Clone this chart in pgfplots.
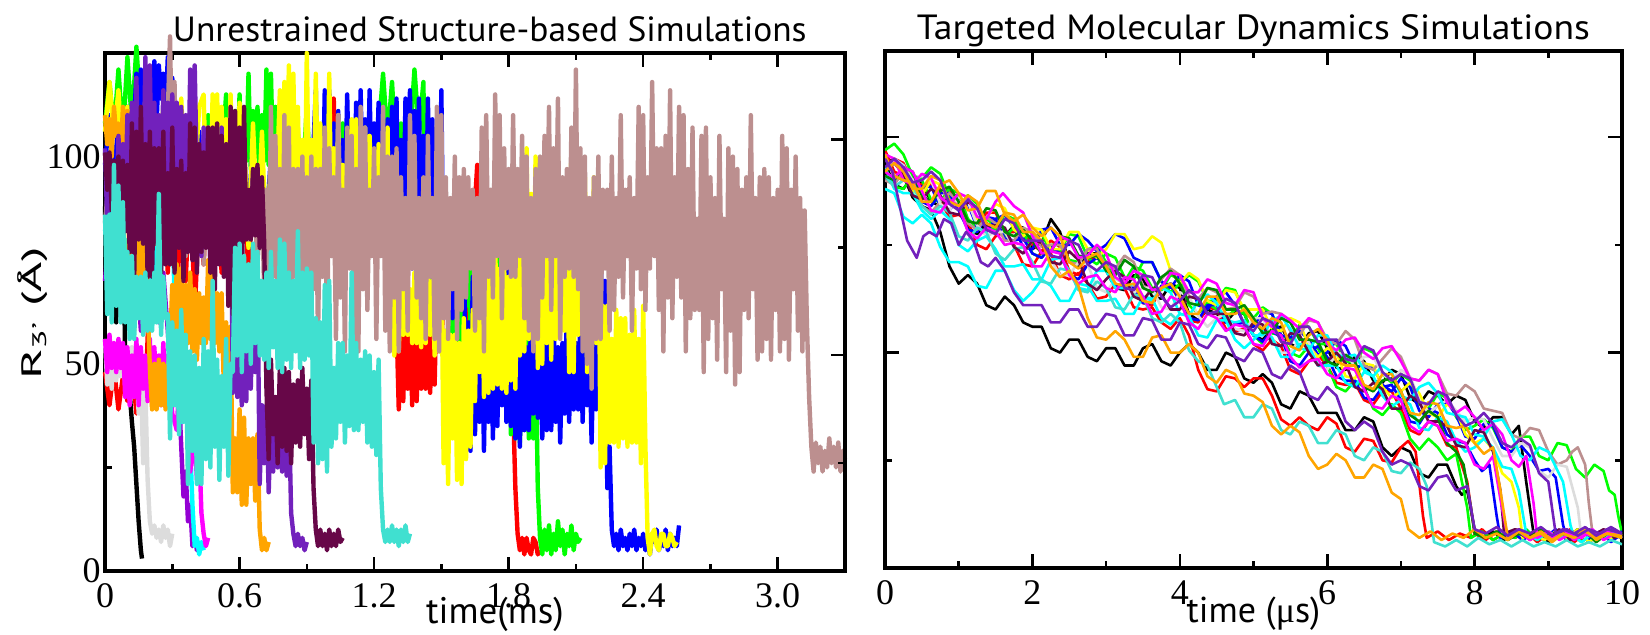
\documentclass[border=0pt]{standalone}
\usepackage{pgfplots}
\pgfplotsset{compat=1.18}
\usepackage{fontspec}
\setmainfont{Liberation Serif}
\setsansfont{PT Sans}
\definecolor{gblack}{HTML}{000000}
\definecolor{gred}{HTML}{FF0000}
\definecolor{ggreen}{HTML}{00FF00}
\definecolor{gblue}{HTML}{0000FF}
\definecolor{gyellow}{HTML}{FFFF00}
\definecolor{gbrown}{HTML}{BC8F8F}
\definecolor{ggrey}{HTML}{DCDCDC}
\definecolor{gviolet}{HTML}{9400D3}
\definecolor{gcyan}{HTML}{00FFFF}
\definecolor{gmagenta}{HTML}{FF00FF}
\definecolor{gorange}{HTML}{FFA500}
\definecolor{gindigo}{HTML}{7221BC}
\definecolor{gmaroon}{HTML}{670748}
\definecolor{gturq}{HTML}{40E0D0}
\definecolor{ggreenf}{HTML}{008B00}
\pgfplotsset{
  base/.style={scale only axis, axis line style={line width=1.7pt},
    every tick/.style={black, line width=1.3pt},
    major tick length=7pt, minor tick length=3.5pt, tick align=inside,
    /pgf/number format/assume math mode=true,
    every tick label/.append style={font=\rmfamily\fontsize{18}{18}\selectfont, inner sep=0pt},
    xticklabel style={yshift=-6pt},
    yticklabel style={xshift=-2pt},
    every axis title shift=0pt,
    title style={font=\sffamily\fontsize{17.5}{18}\selectfont, anchor=base},
  },
  L/.style={line width=2.2pt, line join=round},
  R/.style={line width=1.3pt, line join=round},
}
\begin{document}
\begin{tikzpicture}[x=1pt,y=1pt]
\path[use as bounding box] (0,0) rectangle (825,317);
% ---------------- left panel ----------------
\begin{axis}[base, at={(52.5pt,31.5pt)}, anchor=south west, width=370pt, height=259pt,
  xmin=0, xmax=3.3, ymin=0, ymax=125, clip=false,
  xtick={0,0.6,1.2,1.8,2.4,3.0}, xticklabels={0,0.6,1.2,1.8,2.4,3.0},
  minor xtick={0.3,0.9,1.5,2.1,2.7},
  ytick={0,50,100}, yticklabels={0,50,100}, minor ytick={25,75}, ytick pos=left,
  xlabel={time(ms)}, xlabel style={at={(axis description cs:0.527,-0.0830)}, anchor=center, font=\sffamily\fontsize{18.5}{19}\selectfont},
  ylabel={R\textsubscript{3'} (Å)}, ylabel style={at={(axis description cs:-0.0973,0.497)}, anchor=center, font=\sffamily\fontsize{14}{14}\selectfont, xscale=1.85},
  title={Unrestrained Structure-based Simulations}, title style={at={(axis description cs:0.52,1)}, yshift=6pt, xscale=1.013},
]
\addplot[L, gblack] coordinates {(0,88)(0.01,64)(0.02,97)(0.03,70)(0.04,102)(0.05,60)(0.06,93)(0.07,66)(0.08,86)(0.09,52)(0.10,46)(0.11,43)(0.12,36)(0.13,30)(0.14,21)(0.15,12)(0.16,5)(0.165,3)};
\addplot[L, gred] coordinates {(0,48)(0.02,40)(0.04,49)(0.06,39)(0.08,47)(0.10,41)(0.12,50)(0.14,38)(0.16,46)(0.18,42)(0.20,70)(0.22,92)(0.24,66)(0.26,95)(0.28,72)(0.30,98)(0.32,64)(0.34,90)(0.36,70)(0.38,96)(0.40,62)(0.42,88)(0.44,74)(0.46,99)(0.48,68)(0.50,94)(0.52,72)(0.54,97)(0.56,66)(0.58,92)(0.60,75)(0.62,98)(0.64,70)(0.66,93)(0.68,78)(0.70,96)(0.72,72)(0.74,90)(0.76,76)(0.78,97)(0.80,70)(0.82,92)(0.84,78)(0.86,95)(0.88,74)(0.90,99)(0.92,80)(0.94,108)(0.95,91)(0.96,107)(0.97,95)(0.98,106)(0.99,95)(1.00,114)(1.01,96)(1.02,114)(1.03,95)(1.04,107)(1.05,93)(1.06,84)(1.08,102)(1.10,82)(1.12,98)(1.14,80)(1.16,100)(1.18,84)(1.20,96)(1.22,78)(1.24,90)(1.26,70)(1.28,80)(1.30,60)(1.31,39)(1.32,58)(1.33,41)(1.34,60)(1.35,44)(1.36,60)(1.37,40)(1.38,64)(1.39,41)(1.40,64)(1.41,44)(1.42,58)(1.43,44)(1.44,63)(1.45,43)(1.46,61)(1.47,45)(1.48,70)(1.50,55)(1.52,76)(1.54,52)(1.56,74)(1.58,58)(1.60,78)(1.62,54)(1.64,80)(1.66,98)(1.68,60)(1.70,76)(1.72,52)(1.74,72)(1.76,56)(1.78,70)(1.80,54)(1.82,40)(1.83,20)(1.84,9)(1.85,5)(1.86,8)(1.87,4)(1.88,8)(1.89,5)(1.90,4)(1.91,8)(1.92,7)(1.93,4)(1.94,5)};
\addplot[L, ggreen] coordinates {(0,108)(0.02,118)(0.04,106)(0.06,121)(0.08,105)(0.10,124)(0.12,108)(0.14,126.5)(0.16,110)(0.18,120)(0.20,96)(0.22,108)(0.24,88)(0.26,106)(0.28,90)(0.30,104)(0.32,86)(0.34,100)(0.36,92)(0.38,108)(0.40,88)(0.42,102)(0.44,94)(0.46,110)(0.48,96)(0.50,106)(0.52,98)(0.54,115)(0.55,95)(0.56,111)(0.57,99)(0.58,111)(0.59,95)(0.60,115)(0.61,97)(0.62,110)(0.63,99)(0.64,120)(0.65,97)(0.66,111)(0.67,100)(0.68,112)(0.69,95)(0.70,110)(0.71,99)(0.72,121)(0.73,98)(0.74,120)(0.75,97)(0.76,112)(0.77,99)(0.78,111)(0.80,90)(0.82,110)(0.84,88)(0.86,106)(0.88,92)(0.90,112)(0.92,90)(0.94,108)(0.96,94)(0.98,110)(1.00,90)(1.02,104)(1.04,92)(1.06,108)(1.08,88)(1.10,104)(1.12,94)(1.14,110)(1.16,92)(1.18,106)(1.20,96)(1.22,106)(1.24,120)(1.26,104)(1.28,118)(1.30,98)(1.32,108)(1.34,92)(1.36,104)(1.38,121)(1.40,106)(1.42,118)(1.43,69)(1.44,90)(1.45,69)(1.46,95)(1.47,68)(1.48,89)(1.49,70)(1.50,91)(1.51,71)(1.52,86)(1.53,66)(1.54,65)(1.55,50)(1.56,68)(1.57,52)(1.58,65)(1.59,50)(1.60,64)(1.61,64)(1.62,79)(1.63,57)(1.64,77)(1.65,56)(1.66,83)(1.67,60)(1.68,80)(1.69,62)(1.70,85)(1.71,57)(1.72,77)(1.73,64)(1.74,86)(1.75,58)(1.76,82)(1.77,59)(1.78,83)(1.79,60)(1.80,86)(1.81,33)(1.82,52)(1.83,32)(1.84,53)(1.85,31)(1.86,49)(1.87,34)(1.88,59)(1.89,32)(1.90,57)(1.91,32)(1.92,56)(1.93,20)(1.94,8)(1.95,4)(1.96,10)(1.97,5)(1.98,11)(1.99,4)(2.00,9)(2.01,5)(2.02,12)(2.03,6)(2.04,10)(2.05,4)(2.06,9)(2.07,6)(2.08,11)(2.09,5)(2.10,9)(2.11,7)(2.12,8)};
\addplot[L, gblue] coordinates {(0,98)(0.02,110)(0.04,96)(0.06,108)(0.08,100)(0.10,112)(0.12,97)(0.14,120)(0.15,110)(0.16,121)(0.17,112)(0.18,120)(0.19,109)(0.20,120)(0.21,113)(0.22,123)(0.23,108)(0.24,122)(0.25,114)(0.26,120)(0.27,109)(0.28,124)(0.29,111)(0.30,119)(0.32,90)(0.34,104)(0.36,80)(0.38,100)(0.40,84)(0.42,106)(0.44,78)(0.46,98)(0.48,86)(0.50,104)(0.52,80)(0.54,96)(0.56,88)(0.58,102)(0.60,82)(0.62,98)(0.64,86)(0.66,104)(0.68,80)(0.70,96)(0.72,84)(0.74,100)(0.76,82)(0.78,98)(0.80,86)(0.82,104)(0.84,84)(0.86,100)(0.88,88)(0.90,106)(0.92,90)(0.94,116)(0.95,86)(0.96,105)(0.97,87)(0.98,116)(0.99,89)(1.00,116)(1.01,84)(1.02,108)(1.03,86)(1.04,111)(1.05,91)(1.06,104)(1.07,88)(1.08,115)(1.09,90)(1.10,104)(1.11,84)(1.12,113)(1.13,88)(1.14,116)(1.15,88)(1.16,109)(1.17,88)(1.18,116)(1.19,90)(1.20,108)(1.21,92)(1.22,113)(1.23,85)(1.24,105)(1.25,87)(1.26,109)(1.27,92)(1.28,112)(1.29,78)(1.30,114)(1.31,75)(1.32,104)(1.33,80)(1.34,114)(1.35,72)(1.36,116)(1.37,73)(1.38,111)(1.39,78)(1.40,114)(1.41,80)(1.42,105)(1.43,76)(1.44,114)(1.45,78)(1.46,109)(1.47,77)(1.48,107)(1.49,78)(1.50,116)(1.51,65)(1.52,88)(1.53,66)(1.54,87)(1.55,61)(1.56,90)(1.57,61)(1.58,84)(1.59,65)(1.60,86)(1.61,29)(1.62,60)(1.63,29)(1.64,71)(1.65,33)(1.66,62)(1.67,36)(1.68,63)(1.69,29)(1.70,63)(1.71,36)(1.72,60)(1.73,32)(1.74,71)(1.75,35)(1.76,73)(1.77,40)(1.78,76)(1.79,36)(1.80,74)(1.81,35)(1.82,67)(1.83,32)(1.84,60)(1.85,30)(1.86,60)(1.87,34)(1.88,54)(1.89,34)(1.90,63)(1.91,38)(1.92,56)(1.93,37)(1.94,55)(1.95,32)(1.96,56)(1.97,34)(1.98,57)(1.99,34)(2.00,64)(2.01,36)(2.02,54)(2.03,31)(2.04,55)(2.05,38)(2.06,63)(2.07,36)(2.08,63)(2.09,39)(2.10,55)(2.11,39)(2.12,62)(2.13,36)(2.14,60)(2.15,40)(2.16,56)(2.17,31)(2.18,58)(2.19,39)(2.20,54)(2.21,84)(2.22,40)(2.23,70)(2.24,20)(2.25,30)(2.26,10)(2.27,6)(2.28,9)(2.29,5)(2.30,10)(2.31,6)(2.32,8)(2.33,5)(2.34,9)(2.35,6)(2.36,10)(2.37,5)(2.38,8)(2.39,6)(2.40,9)(2.41,5)(2.42,8)(2.43,4)(2.44,9)(2.45,7)(2.46,10)(2.47,5)(2.48,8)(2.49,6)(2.50,10)(2.51,5)(2.52,9)(2.53,6)(2.54,8)(2.55,6)(2.56,11)};
\addplot[L, gyellow] coordinates {(0,106)(0.02,118)(0.04,105)(0.06,116)(0.08,96)(0.10,112)(0.12,92)(0.14,110)(0.16,94)(0.18,114)(0.20,90)(0.22,108)(0.24,96)(0.26,112)(0.28,92)(0.30,110)(0.32,95)(0.34,114)(0.36,90)(0.38,108)(0.40,94)(0.42,112)(0.44,115)(0.45,93)(0.46,107)(0.47,91)(0.48,115)(0.49,94)(0.50,115)(0.51,90)(0.52,112)(0.53,93)(0.54,109)(0.55,93)(0.56,115)(0.57,93)(0.58,109)(0.59,94)(0.60,113)(0.62,104)(0.64,78)(0.66,108)(0.68,82)(0.70,106)(0.72,76)(0.74,100)(0.76,84)(0.78,116)(0.79,88)(0.80,118)(0.81,92)(0.82,122)(0.83,89)(0.84,120)(0.85,88)(0.86,112)(0.87,87)(0.88,104)(0.89,84)(0.90,125)(0.91,87)(0.92,104)(0.93,87)(0.94,120)(0.95,90)(0.96,108)(0.97,83)(0.98,99)(0.99,80)(1.00,120)(1.01,81)(1.02,102)(1.03,81)(1.04,110)(1.05,82)(1.06,98)(1.07,79)(1.08,99)(1.09,84)(1.10,109)(1.11,82)(1.12,109)(1.13,85)(1.14,99)(1.15,85)(1.16,107)(1.17,82)(1.18,105)(1.19,86)(1.20,101)(1.21,79)(1.22,103)(1.23,85)(1.24,98)(1.25,84)(1.26,107)(1.27,58)(1.28,69)(1.29,52)(1.30,71)(1.31,53)(1.32,72)(1.33,57)(1.34,69)(1.35,57)(1.36,68)(1.37,55)(1.38,72)(1.39,55)(1.40,76)(1.41,54)(1.42,72)(1.43,55)(1.44,73)(1.45,57)(1.46,70)(1.47,52)(1.48,72)(1.49,53)(1.50,76)(1.51,26)(1.52,58)(1.53,21)(1.54,57)(1.55,32)(1.56,57)(1.57,22)(1.58,55)(1.59,21)(1.60,61)(1.61,27)(1.62,58)(1.63,30)(1.64,63)(1.65,41)(1.66,71)(1.67,48)(1.68,80)(1.69,42)(1.70,76)(1.71,43)(1.72,77)(1.73,44)(1.74,80)(1.75,45)(1.76,73)(1.77,44)(1.78,74)(1.79,43)(1.80,71)(1.81,46)(1.82,79)(1.83,44)(1.84,78)(1.85,52)(1.86,97)(1.87,53)(1.88,102)(1.89,56)(1.90,91)(1.91,55)(1.92,100)(1.93,49)(1.94,97)(1.95,50)(1.96,102)(1.97,55)(1.98,86)(1.99,51)(2.00,95)(2.01,56)(2.02,100)(2.03,57)(2.04,88)(2.05,58)(2.06,86)(2.07,48)(2.08,104)(2.09,48)(2.10,86)(2.11,57)(2.12,93)(2.13,57)(2.14,95)(2.15,48)(2.16,88)(2.17,51)(2.18,95)(2.19,55)(2.20,95)(2.21,25)(2.22,64)(2.23,26)(2.24,64)(2.25,31)(2.26,56)(2.27,31)(2.28,63)(2.29,30)(2.30,61)(2.31,32)(2.32,61)(2.33,30)(2.34,57)(2.35,31)(2.36,63)(2.37,31)(2.38,56)(2.39,26)(2.40,64)(2.41,30)(2.42,8)(2.43,4)(2.44,9)(2.45,10)(2.46,6)(2.47,5)(2.48,9)(2.49,9)(2.50,6)(2.51,6)(2.52,9)(2.53,8)(2.54,6)(2.55,7)};
\addplot[L, gbrown] coordinates {(0,84)(0.02,96)(0.04,78)(0.06,98)(0.08,80)(0.10,94)(0.12,76)(0.14,100)(0.16,82)(0.18,96)(0.20,78)(0.22,92)(0.24,84)(0.26,100)(0.28,110)(0.29,129)(0.30,96)(0.31,118)(0.32,86)(0.34,98)(0.36,76)(0.38,94)(0.40,80)(0.42,100)(0.44,74)(0.46,96)(0.48,82)(0.50,98)(0.52,78)(0.54,94)(0.56,84)(0.58,100)(0.60,76)(0.62,92)(0.64,80)(0.66,96)(0.68,74)(0.70,92)(0.71,66)(0.72,92)(0.73,63)(0.74,112)(0.75,71)(0.76,105)(0.77,63)(0.78,97)(0.79,63)(0.80,110)(0.81,53)(0.82,107)(0.83,53)(0.84,97)(0.85,71)(0.86,97)(0.87,56)(0.88,100)(0.89,61)(0.90,95)(0.91,61)(0.92,100)(0.93,68)(0.94,97)(0.95,56)(0.96,97)(0.97,71)(0.98,107)(0.99,53)(1.00,102)(1.01,76)(1.02,95)(1.03,56)(1.04,110)(1.05,66)(1.06,92)(1.07,53)(1.08,107)(1.09,73)(1.10,105)(1.11,53)(1.12,97)(1.13,53)(1.14,112)(1.15,68)(1.16,107)(1.17,63)(1.18,92)(1.19,76)(1.20,102)(1.21,56)(1.22,95)(1.23,76)(1.24,112)(1.25,58)(1.26,100)(1.27,53)(1.28,100)(1.29,66)(1.30,102)(1.31,53)(1.32,95)(1.33,68)(1.34,90)(1.35,58)(1.36,110)(1.37,73)(1.38,105)(1.39,66)(1.40,90)(1.41,61)(1.42,95)(1.43,56)(1.44,105)(1.45,71)(1.46,90)(1.47,56)(1.48,112)(1.49,53)(1.50,110)(1.51,61)(1.52,95)(1.53,56)(1.54,90)(1.55,68)(1.56,100)(1.57,56)(1.58,95)(1.59,63)(1.60,97)(1.61,66)(1.62,95)(1.63,73)(1.64,92)(1.65,58)(1.66,90)(1.67,61)(1.68,107)(1.69,53)(1.70,110)(1.71,71)(1.72,92)(1.73,66)(1.74,115)(1.75,76)(1.76,110)(1.77,61)(1.78,102)(1.79,73)(1.80,97)(1.81,71)(1.82,110)(1.83,71)(1.84,97)(1.85,76)(1.86,105)(1.87,61)(1.88,100)(1.89,58)(1.90,90)(1.91,53)(1.92,97)(1.93,56)(1.94,100)(1.95,66)(1.96,105)(1.97,76)(1.98,112)(1.99,63)(2.00,102)(2.01,76)(2.02,114)(2.03,56)(2.04,95)(2.05,71)(2.06,97)(2.07,73)(2.08,107)(2.09,71)(2.10,121)(2.11,68)(2.12,102)(2.13,53)(2.14,100)(2.15,50)(2.16,90)(2.17,44)(2.18,95)(2.19,56)(2.20,100)(2.21,56)(2.22,92)(2.23,73)(2.24,92)(2.25,58)(2.26,100)(2.27,63)(2.28,90)(2.29,71)(2.30,110)(2.31,66)(2.32,92)(2.33,76)(2.34,95)(2.35,58)(2.36,90)(2.37,73)(2.38,112)(2.39,68)(2.40,110)(2.41,63)(2.42,95)(2.43,73)(2.44,118)(2.45,76)(2.46,102)(2.47,63)(2.48,102)(2.49,53)(2.50,105)(2.51,66)(2.52,116)(2.53,61)(2.54,95)(2.55,71)(2.56,112)(2.57,66)(2.58,110)(2.59,53)(2.60,97)(2.61,61)(2.62,107)(2.63,63)(2.64,85)(2.65,63)(2.66,105)(2.67,48)(2.68,107)(2.69,56)(2.70,95)(2.71,61)(2.72,90)(2.73,51)(2.74,105)(2.75,68)(2.76,85)(2.77,48)(2.78,102)(2.79,58)(2.80,100)(2.81,45)(2.82,97)(2.83,48)(2.84,92)(2.85,63)(2.86,95)(2.87,61)(2.88,110)(2.89,68)(2.90,90)(2.91,51)(2.92,95)(2.93,53)(2.94,97)(2.95,56)(2.96,95)(2.97,51)(2.98,90)(2.99,63)(3.00,92)(3.01,53)(3.02,105)(3.03,56)(3.04,102)(3.05,51)(3.06,92)(3.07,68)(3.08,100)(3.09,58)(3.10,90)(3.11,53)(3.12,87)(3.13,60)(3.14,42)(3.15,30)(3.16,24)(3.17,31)(3.18,26)(3.19,30)(3.20,24)(3.21,29)(3.22,25)(3.23,32)(3.24,26)(3.25,30)(3.26,25)(3.27,31)(3.28,24)(3.29,29)(3.30,27)};
\addplot[L, ggrey] coordinates {(0,56)(0.01,45)(0.02,57)(0.03,44)(0.04,55)(0.05,46)(0.06,54)(0.07,47)(0.08,55)(0.09,45)(0.10,53)(0.11,46)(0.12,54)(0.13,44)(0.14,50)(0.15,38)(0.16,48)(0.17,26)(0.18,44)(0.19,22)(0.20,12)(0.21,9)(0.22,11)(0.23,8)(0.24,10)(0.25,7)(0.26,11)(0.27,8)(0.28,10)(0.29,6)(0.30,9)};
\addplot[L, gviolet] coordinates {(0,70)(0.02,84)(0.04,66)(0.06,80)(0.08,62)(0.10,72)(0.12,60)(0.14,74)(0.16,58)(0.18,70)(0.20,62)(0.22,74)(0.24,60)(0.26,72)(0.28,58)(0.30,40)(0.32,56)(0.34,30)(0.35,18)(0.36,24)(0.37,12)(0.38,16)(0.39,6)(0.40,8)(0.41,5)(0.42,7)};
\addplot[L, gcyan] coordinates {(0,82)(0.02,90)(0.04,76)(0.06,86)(0.08,72)(0.10,80)(0.12,66)(0.14,76)(0.16,62)(0.18,74)(0.20,64)(0.22,78)(0.24,66)(0.26,80)(0.28,85)(0.29,77)(0.30,84)(0.32,50)(0.34,36)(0.36,48)(0.38,30)(0.39,16)(0.40,6)(0.41,8)(0.42,4)(0.43,7)(0.44,5)};
\addplot[L, gmagenta] coordinates {(0,56)(0.01,48)(0.02,57)(0.03,49)(0.04,55)(0.05,48)(0.06,56)(0.07,49)(0.08,55)(0.09,42)(0.10,54)(0.11,40)(0.12,52)(0.13,42)(0.14,56)(0.15,40)(0.16,54)(0.17,44)(0.18,52)(0.19,41)(0.20,56)(0.21,40)(0.22,54)(0.23,44)(0.24,52)(0.25,40)(0.26,55)(0.27,43)(0.28,52)(0.30,38)(0.32,34)(0.34,56)(0.36,46)(0.38,24)(0.40,32)(0.41,22)(0.42,30)(0.43,14)(0.44,9)(0.45,6)(0.46,8)};
\addplot[L, gorange] coordinates {(0,110)(0.01,103)(0.02,109)(0.03,100)(0.04,112)(0.05,105)(0.06,108)(0.07,100)(0.08,112)(0.09,102)(0.10,111)(0.11,62)(0.12,83)(0.13,58)(0.14,81)(0.15,63)(0.16,82)(0.17,62)(0.18,85)(0.19,65)(0.20,49)(0.21,39)(0.22,50)(0.23,39)(0.24,51)(0.25,40)(0.26,50)(0.27,39)(0.28,49)(0.29,54)(0.30,69)(0.31,51)(0.32,74)(0.33,52)(0.34,73)(0.35,51)(0.36,69)(0.37,55)(0.38,72)(0.39,53)(0.40,68)(0.41,51)(0.42,67)(0.43,55)(0.44,66)(0.45,55)(0.46,75)(0.47,56)(0.48,75)(0.49,55)(0.50,67)(0.51,53)(0.52,67)(0.53,44)(0.54,60)(0.55,45)(0.56,59)(0.57,19)(0.58,32)(0.59,19)(0.60,39)(0.61,16)(0.62,37)(0.63,16)(0.64,32)(0.65,21)(0.66,32)(0.67,17)(0.68,33)(0.69,10)(0.70,5)(0.71,8)(0.72,5)(0.73,7)};
\addplot[L, gindigo] coordinates {(0,102)(0.01,84)(0.02,100)(0.03,89)(0.04,98)(0.05,86)(0.06,105)(0.07,91)(0.08,103)(0.09,88)(0.10,110)(0.11,89)(0.12,113)(0.13,87)(0.14,119)(0.15,94)(0.16,110)(0.17,87)(0.18,124)(0.19,86)(0.20,122)(0.21,89)(0.22,113)(0.23,87)(0.24,110)(0.25,93)(0.26,116)(0.27,87)(0.28,113)(0.29,90)(0.30,115)(0.31,92)(0.32,113)(0.33,95)(0.34,112)(0.35,88)(0.36,110)(0.37,89)(0.38,121)(0.39,86)(0.40,122)(0.41,94)(0.42,97)(0.43,76)(0.44,107)(0.45,80)(0.46,107)(0.47,73)(0.48,103)(0.49,79)(0.50,100)(0.51,78)(0.52,107)(0.53,78)(0.54,100)(0.55,80)(0.56,104)(0.57,43)(0.58,63)(0.59,42)(0.60,58)(0.61,40)(0.62,62)(0.63,41)(0.64,63)(0.65,44)(0.66,66)(0.67,48)(0.68,70)(0.69,21)(0.70,40)(0.71,26)(0.72,40)(0.73,19)(0.74,38)(0.75,24)(0.76,39)(0.77,25)(0.78,42)(0.79,24)(0.80,40)(0.81,23)(0.82,40)(0.83,14)(0.84,9)(0.85,6)(0.86,9)(0.87,6)(0.88,8)(0.89,5)(0.90,7)};
\addplot[L, gmaroon] coordinates {(0,101)(0.01,92)(0.02,101)(0.03,87)(0.04,99)(0.05,91)(0.06,100)(0.07,83)(0.08,99)(0.09,82)(0.10,98)(0.11,77)(0.12,108)(0.13,70)(0.14,106)(0.15,80)(0.16,112)(0.17,79)(0.18,103)(0.19,71)(0.20,106)(0.21,71)(0.22,102)(0.23,79)(0.24,102)(0.25,72)(0.26,106)(0.27,74)(0.28,96)(0.29,74)(0.30,107)(0.31,72)(0.32,97)(0.33,78)(0.34,99)(0.35,70)(0.36,96)(0.37,77)(0.38,108)(0.39,75)(0.40,107)(0.41,72)(0.42,103)(0.43,77)(0.44,101)(0.45,78)(0.46,107)(0.47,72)(0.48,107)(0.49,68)(0.50,108)(0.51,74)(0.52,105)(0.53,71)(0.54,103)(0.55,64)(0.56,112)(0.57,62)(0.58,111)(0.59,56)(0.60,107)(0.61,62)(0.62,112)(0.63,80)(0.64,92)(0.65,80)(0.66,97)(0.67,81)(0.68,98)(0.69,78)(0.70,95)(0.71,79)(0.72,44)(0.73,27)(0.74,51)(0.75,33)(0.76,42)(0.77,26)(0.78,50)(0.79,30)(0.80,49)(0.81,29)(0.82,48)(0.83,26)(0.84,45)(0.85,31)(0.86,46)(0.87,30)(0.88,49)(0.89,33)(0.90,44)(0.91,27)(0.92,46)(0.93,20)(0.94,10)(0.95,6)(0.96,10)(0.97,6)(0.98,9)(0.99,5)(1.00,10)(1.01,6)(1.02,9)(1.03,6)(1.04,10)(1.05,7)(1.06,8)};
\addplot[L, gturq] coordinates {(0,86)(0.01,62)(0.02,86)(0.03,60)(0.04,98)(0.05,64)(0.06,93)(0.07,60)(0.08,89)(0.09,60)(0.10,77)(0.11,56)(0.12,76)(0.13,56)(0.14,71)(0.15,61)(0.16,71)(0.17,57)(0.18,72)(0.19,58)(0.20,70)(0.21,58)(0.22,72)(0.23,60)(0.24,91)(0.25,57)(0.26,71)(0.27,61)(0.28,62)(0.29,32)(0.30,60)(0.31,40)(0.32,58)(0.33,33)(0.34,63)(0.35,36)(0.36,57)(0.37,21)(0.38,53)(0.39,29)(0.40,52)(0.41,21)(0.42,49)(0.43,21)(0.44,56)(0.45,27)(0.46,53)(0.47,25)(0.48,70)(0.49,30)(0.50,51)(0.51,22)(0.52,47)(0.53,30)(0.54,56)(0.55,23)(0.56,50)(0.57,48)(0.58,78)(0.59,52)(0.60,79)(0.61,48)(0.62,76)(0.63,53)(0.64,74)(0.65,50)(0.66,79)(0.67,55)(0.68,77)(0.69,52)(0.70,70)(0.71,51)(0.72,72)(0.73,49)(0.74,77)(0.75,54)(0.76,70)(0.77,49)(0.78,80)(0.79,48)(0.80,79)(0.81,51)(0.82,72)(0.83,49)(0.84,70)(0.85,53)(0.86,82)(0.87,49)(0.88,72)(0.89,51)(0.90,73)(0.91,52)(0.92,72)(0.93,31)(0.94,61)(0.95,26)(0.96,60)(0.97,27)(0.98,69)(0.99,24)(1.00,70)(1.01,30)(1.02,49)(1.03,32)(1.04,55)(1.05,36)(1.06,55)(1.07,31)(1.08,52)(1.09,35)(1.10,72)(1.11,34)(1.12,55)(1.13,34)(1.14,51)(1.15,36)(1.16,53)(1.17,31)(1.18,52)(1.19,30)(1.20,48)(1.21,28)(1.22,51)(1.23,20)(1.24,10)(1.25,7)(1.26,10)(1.27,7)(1.28,11)(1.29,7)(1.30,10)(1.31,6)(1.32,10)(1.33,7)(1.34,11)(1.35,7)(1.36,9)};
\end{axis}
\begin{axis}[base, at={(52.5pt,31.5pt)}, anchor=south west, width=370pt, height=259pt,
  xmin=0, xmax=3.3, ymin=0, ymax=120, axis x line=none, axis y line*=right,
  ytick={50,100}, minor ytick={25,75}, yticklabels={}]
\end{axis}
% ---------------- right panel ----------------
\begin{axis}[base, at={(442.5pt,33pt)}, anchor=south west, width=368.5pt, height=258.5pt,
  xmin=0, xmax=10, ymin=0, ymax=120,
  xtick={0,2,4,6,8,10}, xticklabels={0,2,4,6,8,10}, minor xtick={1,3,5,7,9},
  ytick={50,100}, minor ytick={25,75}, yticklabels={},
  xlabel={time ({\rmfamily μ}s)}, xlabel style={at={(axis description cs:0.5,-0.0890)}, anchor=center, font=\sffamily\fontsize{18}{19}\selectfont},
  title={Targeted Molecular Dynamics Simulations}, title style={at={(axis description cs:0.5,1)}, yshift=6pt, xscale=1.075},
]
\addplot[R, gblack] coordinates {(0,94)(0.125,95)(0.25,91)(0.375,86)(0.5,84)(0.625,83)(0.75,78)(0.875,70)(1,66)(1.125,68)(1.25,66)(1.375,61)(1.5,60)(1.625,63)(1.75,61)(1.875,57)(2,56)(2.125,56)(2.25,51)(2.375,50)(2.5,53)(2.625,53)(2.75,49)(2.875,48)(3,51)(3.125,51)(3.25,47)(3.375,47)(3.5,51)(3.625,52)(3.75,48)(3.875,47)(4,50)(4.125,52)(4.25,50)(4.375,46)(4.5,46)(4.625,50)(4.75,49)(4.875,44)(5,43)(5.125,45)(5.25,43)(5.375,38)(5.5,37)(5.625,41)(5.75,40)(5.875,36)(6,36)(6.125,36)(6.25,32)(6.375,32)(6.5,35)(6.625,34)(6.75,28)(6.875,26)(7,28)(7.125,27)(7.25,22)(7.375,21)(7.5,24)(7.625,24)(7.75,19)(7.825,17)(7.9,18)(8.0,9)(8.1,7)(8.25,8.5)(8.4,6.5)(8.55,9)(8.7,7)(8.85,8.5)(9,6)(9.15,8)(9.3,7.5)(9.45,9)(9.6,6.5)(9.75,8)(9.9,7)(10,8.5)};
\addplot[R, gblack] coordinates {(0,94)(0.125,89)(0.25,88)(0.375,91)(0.5,89.5)(0.625,85)(0.75,84)(0.875,86.5)(1,85)(1.125,79)(1.25,77.5)(1.375,80)(1.5,79)(1.625,77)(1.75,79.5)(1.875,79)(2,74)(2.125,75.5)(2.25,81)(2.375,78)(2.5,71)(2.625,70)(2.75,73)(2.875,73)(3,69)(3.125,65)(3.25,64.5)(3.375,68)(3.5,67)(3.625,63)(3.75,62.5)(3.875,66)(4,65)(4.125,59)(4.25,57.5)(4.375,60)(4.5,59)(4.625,57)(4.75,59.5)(4.875,59)(5,54)(5.125,53)(5.25,55.5)(5.375,56)(5.5,52)(5.625,51)(5.75,54.5)(5.875,55)(6,51)(6.125,46.5)(6.25,46)(6.375,49)(6.5,48)(6.625,43.5)(6.75,43)(6.875,46)(7,45)(7.125,39.5)(7.25,38)(7.375,41)(7.5,40)(7.625,38)(7.75,40)(7.875,39)(8,34)(8.125,32.5)(8.25,35)(8.375,35)(8.5,31)(8.6,33)(8.7,20)(8.8,8)(8.95,6.5)(9.1,8.5)(9.25,7)(9.4,9)(9.55,6)(9.7,8)(9.85,7)(10,8.5)};
\addplot[R, gred] coordinates {(0,92)(0.125,95)(0.25,94)(0.375,89.5)(0.5,89)(0.625,89)(0.75,85)(0.875,81.5)(1,82)(1.125,80.5)(1.25,75)(1.375,74)(1.5,77)(1.625,78)(1.75,75)(1.875,70.5)(2,70)(2.125,73.5)(2.25,73)(2.375,68)(2.5,67)(2.625,68.5)(2.75,66)(2.875,62.5)(3,63)(3.125,66)(3.25,65)(3.375,60.5)(3.5,60)(3.625,60.5)(3.75,57)(3.875,55.5)(4,58)(4.125,54)(4.25,46)(4.375,41.5)(4.5,41)(4.625,44.5)(4.75,44)(4.875,42)(5,44)(5.125,44)(5.25,40)(5.375,34.5)(5.5,33)(5.625,35)(5.75,33)(5.875,32)(6,35)(6.125,33.5)(6.25,28)(6.375,27)(6.5,30)(6.625,29.5)(6.75,25)(6.875,24.5)(7,28)(7.1,29.5)(7.2,27)(7.3,12)(7.35,7)(7.5,8.5)(7.65,6.5)(7.8,8)(7.95,7)(8.1,9)(8.25,6.5)(8.4,8)(8.55,7)(8.7,8.5)(8.85,6)(9,8)(9.15,7)(9.3,9)(9.45,6.5)(9.6,8)(9.75,7)(9.9,8.5)(10,7)};
\addplot[R, gred] coordinates {(0,97)(0.125,92)(0.25,91)(0.375,90.5)(0.5,86)(0.625,85)(0.75,88)(0.875,88)(1,84)(1.125,79.5)(1.25,79)(1.375,82.5)(1.5,82.5)(1.625,78)(1.75,78)(1.875,78.5)(2,75)(2.125,73.5)(2.25,76)(2.375,74.5)(2.5,69)(2.625,68)(2.75,71)(2.875,72.5)(3,70)(3.125,65.5)(3.25,65)(3.375,65)(3.5,61.5)(3.625,61)(3.75,65)(3.875,65.5)(4,62)(4.125,57.5)(4.25,57)(4.375,60.5)(4.5,60)(4.625,55.5)(4.75,55)(4.875,55.5)(5,52)(5.125,50.5)(5.25,53)(5.375,51.5)(5.5,46)(5.625,45)(5.75,48)(5.875,49.5)(6,47)(6.125,43)(6.25,42.5)(6.375,43)(6.5,39)(6.625,38)(6.75,41)(6.875,41)(7,37)(7.125,32)(7.25,31)(7.375,34)(7.5,33)(7.625,28.5)(7.75,28)(7.9,20)(8.0,8)(8.15,6.5)(8.3,8.5)(8.45,7)(8.6,9)(8.75,6.5)(8.9,8)(9.05,7)(9.2,8.5)(9.35,6)(9.5,8)(9.65,7.5)(9.8,9)(10,7)};
\addplot[R, ggreen] coordinates {(0,97)(0.125,98.5)(0.25,96)(0.375,91)(0.5,90.5)(0.625,93)(0.75,91.5)(0.875,86)(1,84)(1.125,86.5)(1.25,84.5)(1.375,79.5)(1.5,78.5)(1.625,82)(1.75,81)(1.875,77)(2,77)(2.125,77.5)(2.25,73.5)(2.375,73.5)(2.5,77.5)(2.625,77)(2.75,72)(2.875,70.5)(3,73)(3.125,72)(3.25,67.5)(3.375,67)(3.5,71)(3.625,71)(3.75,66.5)(3.875,64)(4,66)(4.125,68)(4.25,66.5)(4.375,62)(4.5,62)(4.625,65)(4.75,64.5)(4.875,59)(5,58)(5.125,60.5)(5.25,59)(5.375,54)(5.5,53)(5.625,56.5)(5.75,56)(5.875,52)(6,52)(6.125,52)(6.25,48)(6.375,47.5)(6.5,51)(6.625,50)(6.75,45)(6.875,43)(7,45)(7.125,43.5)(7.25,38)(7.375,37)(7.5,40.5)(7.625,39.5)(7.75,35)(7.875,32)(8,33)(8.125,34.5)(8.25,32.5)(8.375,28)(8.5,27)(8.625,30.5)(8.75,30.5)(8.875,26)(9,25)(9.125,29)(9.25,28.5)(9.375,23)(9.5,21)(9.625,24)(9.75,22.5)(9.825,18)(9.9,17)(9.95,12)(10,8)};
\addplot[R, ggreen] coordinates {(0,93)(0.125,88.5)(0.25,88)(0.375,91)(0.5,90)(0.625,85.5)(0.75,85)(0.875,88)(1,87)(1.125,81)(1.25,79)(1.375,81)(1.5,79.5)(1.625,77)(1.75,79)(1.875,78)(2,73)(2.125,72)(2.25,75)(2.375,75)(2.5,71.5)(2.625,71)(2.75,74)(2.875,74.5)(3,71)(3.125,67)(3.25,66.5)(3.375,70)(3.5,69)(3.625,65)(3.75,64.5)(3.875,68)(4,67)(4.125,61)(4.25,59)(4.375,61.5)(4.5,60)(4.625,58)(4.75,60)(4.875,59)(5,54)(5.125,52)(5.25,54.5)(5.375,54)(5.5,50)(5.625,49)(5.75,51.5)(5.875,51)(6,47)(6.125,42)(6.25,41)(6.375,43.5)(6.5,42)(6.625,37)(6.75,35.5)(6.875,38)(7,36)(7.125,30)(7.25,27.5)(7.375,30)(7.5,28)(7.625,25)(7.75,26.5)(7.9,14)(7.95,7)(8.1,8.5)(8.25,6.5)(8.4,8)(8.55,7)(8.7,9)(8.85,6.5)(9,8)(9.15,7)(9.3,8.5)(9.45,6)(9.6,8)(9.75,7)(9.9,9)(10,7.5)};
\addplot[R, gblue] coordinates {(0,92)(0.125,95)(0.25,93.5)(0.375,89)(0.5,88.5)(0.625,88.5)(0.75,84)(0.875,83)(1,86)(1.125,84.5)(1.25,79)(1.375,78)(1.5,81)(1.625,82)(1.75,79)(1.875,74.5)(2,74)(2.125,78.5)(2.25,79)(2.375,75)(2.5,75)(2.625,77.5)(2.75,76)(2.875,73.5)(3,75)(3.125,77.5)(3.25,76.5)(3.375,72)(3.5,71)(3.625,71)(3.75,66.5)(3.875,65)(4,68)(4.125,66.5)(4.25,61)(4.375,60)(4.5,63)(4.625,64)(4.75,61)(4.875,56.5)(5,56)(5.125,59.5)(5.25,59)(5.375,54)(5.5,53.5)(5.625,55)(5.75,53)(5.875,49.5)(6,50)(6.125,53)(6.25,51.5)(6.375,47)(6.5,46.5)(6.625,46.5)(6.75,42.5)(6.875,41)(7,44)(7.125,42)(7.25,36.5)(7.375,35)(7.5,38)(7.625,38.5)(7.75,35.5)(7.875,30.5)(8,30)(8.125,33.5)(8.25,33)(8.375,28)(8.5,27)(8.625,28.5)(8.75,26)(8.875,22.5)(9,23)(9.1,21)(9.2,10)(9.25,7)(9.4,8.5)(9.55,6.5)(9.7,8)(9.85,7)(10,8.5)};
\addplot[R, gblue] coordinates {(0,96)(0.125,91)(0.25,90)(0.375,89.5)(0.5,85)(0.625,84)(0.75,87)(0.875,87)(1,83)(1.125,78.5)(1.25,78)(1.375,81.5)(1.5,81)(1.625,76.5)(1.75,76)(1.875,76.5)(2,73)(2.125,72)(2.25,74.5)(2.375,73)(2.5,68)(2.625,67)(2.75,70.5)(2.875,72)(3,70)(3.125,65.5)(3.25,65)(3.375,65)(3.5,61.5)(3.625,61.5)(3.75,65.5)(3.875,66)(4,62)(4.125,58)(4.25,57.5)(4.375,61)(4.5,61)(4.625,57)(4.75,56.5)(4.875,57)(5,54)(5.125,52.5)(5.25,55)(5.375,53.5)(5.5,48)(5.625,47)(5.75,50)(5.875,51.5)(6,49)(6.125,44.5)(6.25,43.5)(6.375,43.5)(6.5,39.5)(6.625,39)(6.75,42)(6.875,42.5)(7,39)(7.125,34)(7.25,33.5)(7.375,37)(7.5,36)(7.625,31)(7.75,29.5)(7.875,29)(8,25)(8.1,22.5)(8.2,24)(8.3,12)(8.35,7)(8.5,8.5)(8.65,6.5)(8.8,8)(8.95,7)(9.1,9)(9.25,6.5)(9.4,8)(9.55,7)(9.7,8.5)(9.85,6)(10,8)};
\addplot[R, gyellow] coordinates {(0,92)(0.125,94.5)(0.25,92.5)(0.375,87.5)(0.5,86.5)(0.625,90)(0.75,89)(0.875,85)(1,85)(1.125,85)(1.25,81)(1.375,81)(1.5,84.5)(1.625,83.5)(1.75,78.5)(1.875,77)(2,79)(2.125,78.5)(2.25,74)(2.375,74)(2.5,78)(2.625,78)(2.75,74)(2.875,72)(3,74)(3.125,77.5)(3.25,77.5)(3.375,74)(3.5,74.5)(3.625,77)(3.75,75.5)(3.875,69)(4,66)(4.125,68.5)(4.25,67)(4.375,62)(4.5,61)(4.625,64.5)(4.75,64)(4.875,60)(5,60)(5.125,60)(5.25,55.5)(5.375,55)(5.5,58)(5.625,57)(5.75,51.5)(5.875,49)(6,51)(6.125,50)(6.25,44.5)(6.375,44)(6.5,47.5)(6.625,47)(6.75,42)(6.875,39.5)(7,41)(7.125,43)(7.25,40.5)(7.375,36)(7.5,35)(7.625,38)(7.75,36.5)(7.875,31)(8,29)(8.125,30)(8.25,27.5)(8.375,22)(8.5,20)(8.6,14)(8.65,7)(8.8,8)(8.95,6.5)(9.1,8.5)(9.25,7)(9.4,9)(9.55,6)(9.7,8)(9.85,7)(10,8)};
\addplot[R, gbrown] coordinates {(0,90)(0.125,89)(0.25,92)(0.375,90)(0.5,84)(0.625,82.5)(0.75,85)(0.875,87)(1,85)(1.125,80)(1.25,78.5)(1.375,81.5)(1.5,80)(1.625,76)(1.75,76)(1.875,79)(2,78)(2.125,74.5)(2.25,75)(2.375,75)(2.5,71)(2.625,70.5)(2.75,74)(2.875,74)(3,70)(3.125,69.5)(3.25,72.5)(3.375,71)(3.5,65.5)(3.625,64.5)(3.75,67)(3.875,69.5)(4,68)(4.125,63)(4.25,62.5)(4.375,65)(4.5,64)(4.625,60)(4.75,60.5)(4.875,64)(5,63)(5.125,59)(5.25,59.5)(5.375,59)(5.5,55)(5.625,54)(5.75,57.5)(5.875,57)(6,53)(6.125,52)(6.25,55)(6.375,53)(6.5,47)(6.625,46)(6.75,48.5)(6.875,51)(7,49)(7.125,44)(7.25,43.5)(7.375,46)(7.5,45)(7.625,40.5)(7.75,40)(7.875,42.5)(8,41)(8.125,37)(8.25,36.5)(8.375,36)(8.5,31)(8.625,30)(8.75,32.5)(8.875,32)(9,27)(9.125,24)(9.25,25)(9.325,27)(9.4,28)(9.5,24)(9.55,15)(9.6,8)(9.75,7)(9.9,8.5)(10,7.5)};
\addplot[R, ggrey] coordinates {(0,92)(0.125,95)(0.25,93.5)(0.375,90)(0.5,91)(0.625,90)(0.75,84.5)(0.875,83)(1,86)(1.125,85)(1.25,79.5)(1.375,77)(1.5,78)(1.625,78)(1.75,74.5)(1.875,73)(2,76)(2.125,76)(2.25,71.5)(2.375,68)(2.5,68)(2.625,71)(2.75,70.5)(2.875,65)(3,64)(3.125,67)(3.25,66.5)(3.375,64)(3.5,65)(3.625,65)(3.75,60.5)(3.875,60)(4,64)(4.125,63)(4.25,58.5)(4.375,56)(4.5,58)(4.625,59)(4.75,55.5)(4.875,55)(5,58)(5.125,58)(5.25,53.5)(5.375,50)(5.5,50)(5.625,53)(5.75,52.5)(5.875,47)(6,46)(6.125,50)(6.25,49.5)(6.375,47)(6.5,49)(6.625,49)(6.75,45)(6.875,43.5)(7,46)(7.125,44.5)(7.25,39)(7.375,36)(7.5,37.5)(7.625,39)(7.75,36.5)(7.875,34)(8,35)(8.125,34.5)(8.25,30)(8.375,26)(8.5,26)(8.625,29)(8.75,28)(8.875,22.5)(9,21)(9.125,24)(9.25,23.5)(9.4,14)(9.45,7)(9.6,8.5)(9.75,6.5)(9.9,8)(10,7)};
\addplot[R, gcyan] coordinates {(0,93)(0.125,88)(0.25,87)(0.375,87)(0.5,83)(0.625,81)(0.75,83)(0.875,81)(1,75)(1.125,73.5)(1.25,76)(1.375,77)(1.5,74)(1.625,70)(1.75,70)(1.875,70.5)(2,67)(2.125,67)(2.25,71.5)(2.375,72)(2.5,69)(2.625,65)(2.75,64.5)(2.875,69)(3,69)(3.125,65)(3.25,65)(3.375,66)(3.5,63)(3.625,62)(3.75,65)(3.875,64)(4,59)(4.125,58.5)(4.25,62)(4.375,63.5)(4.5,61.5)(4.625,57.5)(4.75,57)(4.875,57.5)(5,54)(5.125,54)(5.25,57.5)(5.375,58.5)(5.5,55.5)(5.625,51)(5.75,50.5)(5.875,54)(6,54)(6.125,49.5)(6.25,49)(6.375,49.5)(6.5,46)(6.625,44.5)(6.75,47)(6.875,45.5)(7,40)(7.125,39)(7.25,42)(7.375,43)(7.5,40.5)(7.625,36)(7.75,35.5)(7.875,35)(8,31)(8.125,30.5)(8.25,34)(8.375,34.5)(8.5,31)(8.625,26)(8.75,25)(8.875,28)(9,27)(9.2,20)(9.3,10)(9.35,7)(9.5,8.5)(9.65,6.5)(9.8,8)(10,7)};
\addplot[R, gcyan] coordinates {(0,88)(0.125,87)(0.25,81.5)(0.375,80)(0.5,82)(0.625,80)(0.75,74.5)(0.875,71)(1,71)(1.125,70)(1.25,65.5)(1.375,65)(1.5,69)(1.625,69)(1.75,64.5)(1.875,62)(2,64)(2.125,67)(2.25,65.5)(2.375,62)(2.5,62)(2.625,66)(2.75,65.5)(2.875,62)(3,62)(3.125,62.5)(3.25,59)(3.375,59)(3.5,63)(3.625,62.5)(3.75,58)(3.875,56.5)(4,59)(4.125,58.5)(4.25,54)(4.375,53.5)(4.5,57.5)(4.625,57.5)(4.75,53)(4.875,51)(5,53)(5.125,55)(5.25,53.5)(5.375,49)(5.5,49)(5.625,52)(5.75,51.5)(5.875,47)(6,47)(6.125,47)(6.25,43)(6.375,42)(6.5,45.5)(6.625,44.5)(6.75,40)(6.875,37.5)(7,39)(7.125,38)(7.25,32.5)(7.375,32)(7.5,35)(7.625,34)(7.75,29.5)(7.875,27)(8,28)(8.125,30)(8.25,28)(8.375,23.5)(8.5,23)(8.6,18)(8.7,8)(8.85,6.5)(9,8.5)(9.15,7)(9.3,8)(9.45,6)(9.6,8)(9.75,7)(9.9,8.5)(10,7)};
\addplot[R, gturq] coordinates {(0,91)(0.125,88.5)(0.25,90)(0.375,89)(0.5,84)(0.625,82)(0.75,84)(0.875,82.5)(1,77)(1.125,76)(1.25,79)(1.375,78)(1.5,73)(1.625,71.5)(1.75,74)(1.875,74.5)(2,71)(2.125,66.5)(2.25,66)(2.375,69.5)(2.5,69)(2.625,64.5)(2.75,64)(2.875,66.5)(3,65)(3.125,60.5)(3.25,60)(3.375,63.5)(3.5,63)(3.625,58)(3.75,57)(3.875,59)(4,57)(4.125,50.5)(4.25,48)(4.375,47)(4.5,42)(4.6,38)(4.75,39)(4.875,35)(5,35)(5.125,38)(5.25,37)(5.375,32)(5.5,31)(5.625,34)(5.75,33)(5.875,29)(6,29)(6.125,32)(6.25,31)(6.375,26)(6.5,25)(6.625,28)(6.75,27)(6.875,22.5)(7,22)(7.125,24.5)(7.25,23)(7.35,19)(7.45,6)(7.6,5)(7.75,6.5)(7.9,5)(8.05,7)(8.2,5.5)(8.35,6.5)(8.5,5)(8.65,6.5)(8.8,5)(8.95,6)(9.1,5)(9.25,6.5)(9.4,5)(9.55,6)(9.7,5)(9.85,6.5)(10,5.5)};
\addplot[R, gmaroon] coordinates {(0,92)(0.125,94)(0.25,91.5)(0.375,86.5)(0.5,85.5)(0.625,88)(0.75,86.5)(0.875,82.5)(1,82)(1.125,85)(1.25,83.5)(1.375,79.5)(1.5,79.5)(1.625,79)(1.75,74.5)(1.875,73)(2,76)(2.125,75.5)(2.25,71)(2.375,70.5)(2.5,73.5)(2.625,71.5)(2.75,66)(2.875,64.5)(3,67)(3.125,69)(3.25,67.5)(3.375,63)(3.5,62)(3.625,65)(3.75,63.5)(3.875,60)(4,60)(4.125,63)(4.25,62.5)(4.375,59)(4.5,59)(4.625,59)(4.75,54.5)(4.875,54)(5,57)(5.125,56.5)(5.25,52)(5.375,51.5)(5.5,54.5)(5.625,54)(5.75,50)(5.875,47)(6,48)(6.125,50)(6.25,47.5)(6.375,42)(6.5,41)(6.625,43)(6.75,41.5)(6.875,37)(7,37)(7.125,40)(7.25,38.5)(7.375,34)(7.5,34)(7.625,33)(7.75,28.5)(7.875,28)(8,32)(8.125,31.5)(8.25,27)(8.35,18)(8.4,8)(8.55,9)(8.7,7)(8.85,8.5)(9,7)(9.15,9)(9.3,6.5)(9.45,8)(9.6,7.5)(9.75,9)(9.9,7)(10,8)};
\addplot[R, ggreenf] coordinates {(0,91)(0.125,90)(0.25,93)(0.375,92)(0.5,86.5)(0.625,85)(0.75,87.5)(0.875,88.5)(1,85)(1.125,80.5)(1.25,80)(1.375,83.5)(1.5,83)(1.625,78)(1.75,77)(1.875,78.5)(2,76)(2.125,73)(2.25,73.5)(2.375,77)(2.5,76.5)(2.625,72.5)(2.75,72)(2.875,72.5)(3,69)(3.125,68)(3.25,71.5)(3.375,70)(3.5,65)(3.625,64)(3.75,67.5)(3.875,69)(4,66)(4.125,61.5)(4.25,61)(4.375,65)(4.5,64.5)(4.625,60)(4.75,60)(4.875,61)(5,58)(5.125,54.5)(5.25,55)(5.375,58)(5.5,57)(5.625,53)(5.75,53)(5.875,52.5)(6,48)(6.125,47)(6.25,49.5)(6.375,48)(6.5,42)(6.625,41)(6.75,43.5)(6.875,44)(7,41)(7.125,35.5)(7.25,34)(7.375,36.5)(7.5,35)(7.625,29)(7.75,27)(7.85,24)(7.95,14)(8.0,8)(8.15,7)(8.3,8.5)(8.45,6.5)(8.6,8)(8.75,7)(8.9,9)(9.05,6.5)(9.2,8)(9.35,7)(9.5,8.5)(9.65,6)(9.8,8)(10,7)};
\addplot[R, gmagenta] coordinates {(0,96)(0.125,95)(0.25,90)(0.375,89)(0.5,91.5)(0.625,90.5)(0.75,86)(0.875,84.5)(1,87)(1.125,86)(1.25,81.5)(1.375,81)(1.5,85)(1.6,87)(1.75,84)(1.875,82.5)(2,77)(2.125,73)(2.25,73.5)(2.375,77)(2.5,76)(2.625,72)(2.75,72.5)(2.875,75)(3,73)(3.125,67.5)(3.25,66)(3.375,69)(3.5,68)(3.625,64.5)(3.75,65)(3.875,68.5)(4,68)(4.125,64)(4.25,64)(4.375,67)(4.5,66)(4.625,61.5)(4.75,61)(4.875,64.5)(5,64)(5.125,58)(5.25,56)(5.375,59)(5.5,57.5)(5.625,55.5)(5.75,58)(5.875,57)(6,52)(6.125,50.5)(6.25,53)(6.375,53.5)(6.5,50)(6.625,48.5)(6.75,51)(6.875,51.5)(7,48)(7.125,44)(7.25,43.5)(7.375,46)(7.5,45)(7.625,38.5)(7.75,36)(7.875,37.5)(8,35)(8.125,32)(8.25,33.5)(8.375,31)(8.5,25)(8.6,23.5)(8.7,26)(8.8,15)(8.85,7)(9,8.5)(9.15,6.5)(9.3,8)(9.45,7)(9.6,9)(9.75,6.5)(9.9,8)(10,7)};
\addplot[R, gmagenta] coordinates {(0,92)(0.125,90.5)(0.25,93)(0.375,92)(0.5,87.5)(0.625,83)(0.75,82.5)(0.875,85.5)(1,84)(1.125,78)(1.25,76.5)(1.375,79)(1.5,78)(1.625,75)(1.75,75.5)(1.875,75)(2,70)(2.125,70)(2.25,73.5)(2.375,73)(2.5,68)(2.625,66)(2.75,67.5)(2.875,68)(3,65)(3.125,64)(3.25,67.5)(3.375,67)(3.5,63)(3.625,59)(3.75,59.5)(3.875,63)(4,62)(4.125,57)(4.25,55.5)(4.375,59)(4.5,58)(4.625,55)(4.75,56.5)(4.875,56)(5,52)(5.125,51.5)(5.25,55)(5.375,54)(5.5,49)(5.625,46.5)(5.75,48)(5.875,48.5)(6,45)(6.125,44)(6.25,46.5)(6.375,46)(6.5,41.5)(6.625,37.5)(6.75,37)(6.875,40)(7,39)(7.125,33)(7.25,31.5)(7.375,34)(7.5,33)(7.625,29.5)(7.75,30)(7.875,29)(8,24)(8.125,23)(8.25,26)(8.35,16)(8.45,7)(8.6,8.5)(8.75,6.5)(8.9,8)(9.05,7)(9.2,9)(9.35,6.5)(9.5,8)(9.65,7)(9.8,8.5)(10,7)};
\addplot[R, gorange] coordinates {(0,92)(0.125,94)(0.25,92)(0.375,88)(0.5,88)(0.625,91)(0.75,90)(0.875,85)(1,84)(1.125,86.5)(1.25,85)(1.375,80)(1.5,79)(1.625,82.5)(1.75,82)(1.875,78)(2,78)(2.125,76)(2.25,70)(2.375,67.5)(2.5,69)(2.625,65.5)(2.75,58)(2.875,53.5)(3,53)(3.125,55)(3.25,53)(3.375,49)(3.5,49)(3.625,53.5)(3.75,54)(3.875,50)(4,50)(4.125,52)(4.25,50)(4.375,44.5)(4.5,43)(4.625,46)(4.75,45)(4.875,40.5)(5,40)(5.125,38.5)(5.25,33)(5.375,31)(5.5,33)(5.625,31.5)(5.75,26)(5.875,23)(6,24)(6.125,26.5)(6.25,25)(6.375,21)(6.5,21)(6.625,24)(6.75,23)(6.875,17.5)(7,16)(7.1,9)(7.25,7)(7.4,8.5)(7.55,6.5)(7.7,8)(7.85,7)(8,9)(8.15,7)(8.3,8)(8.45,6.5)(8.6,8.5)(8.75,7)(8.9,8)(9.05,6)(9.2,8)(9.35,7)(9.5,8.5)(9.65,7)(9.8,8)(10,7.5)};
\addplot[R, gorange] coordinates {(0,96)(0.125,91)(0.25,90)(0.375,89.5)(0.5,85)(0.625,85)(0.75,89)(0.875,90)(1,87)(1.125,83)(1.25,83.5)(1.375,87.5)(1.5,87.5)(1.625,82)(1.75,80.5)(1.875,82)(2,79)(2.125,77)(2.25,79)(2.375,77)(2.5,71)(2.625,69.5)(2.75,72)(2.875,73)(3,70)(3.125,66)(3.25,65.5)(3.375,66)(3.5,62)(3.625,61.5)(3.75,65)(3.875,66)(4,63)(4.125,59)(4.25,59)(4.375,63)(4.5,63)(4.625,59)(4.75,59)(4.875,60)(5,57)(5.125,55.5)(5.25,58)(5.375,57)(5.5,51.5)(5.625,50.5)(5.75,54)(5.875,55.5)(6,53)(6.125,48)(6.25,47)(6.375,47)(6.5,42.5)(6.625,41.5)(6.75,45)(6.875,45)(7,41)(7.125,36)(7.25,35.5)(7.375,38.5)(7.5,38)(7.625,33)(7.75,32.5)(7.875,33)(8,29)(8.125,26.5)(8.25,28)(8.35,18)(8.45,7)(8.6,9)(8.75,7)(8.9,8.5)(9.05,6.5)(9.2,8)(9.35,7)(9.5,9)(9.65,6.5)(9.8,8)(10,7)};
\addplot[R, gindigo] coordinates {(0,95)(0.1,92)(0.2,84)(0.3,76)(0.43,72)(0.52,77)(0.6,78)(0.7,77)(0.8,81)(0.9,80)(1.0,75)(1.1,78)(1.2,76)(1.3,71)(1.4,70)(1.5,72)(1.625,69)(1.75,64)(1.875,61)(2,61)(2.125,61)(2.25,57)(2.375,57)(2.5,60)(2.625,60)(2.75,56)(2.875,56)(3,59)(3.125,58.5)(3.25,54)(3.375,54)(3.5,58)(3.625,57.5)(3.75,53)(3.875,53)(4,57)(4.125,56.5)(4.25,52)(4.375,51)(4.5,54)(4.625,53.5)(4.75,49)(4.875,48)(5,51)(5.125,50)(5.25,45)(5.375,44)(5.5,47)(5.625,45.5)(5.75,40)(5.875,39)(6,42)(6.125,40)(6.25,34)(6.375,32)(6.5,34)(6.625,32.5)(6.75,27)(6.875,24)(7,25)(7.125,24)(7.25,19)(7.375,18)(7.5,21)(7.625,21.5)(7.75,18)(7.9,19)(8.0,9)(8.15,8)(8.3,9.5)(8.45,7.5)(8.6,9)(8.75,8)(8.9,9.5)(9.05,7.5)(9.2,9)(9.35,8)(9.5,9.5)(9.65,7.5)(9.8,9)(10,8)};
\addplot[R, gindigo] coordinates {(0,93)(0.125,95)(0.25,93)(0.375,89.5)(0.5,90)(0.625,92)(0.75,90)(0.875,84.5)(1,83)(1.125,85.5)(1.25,83.5)(1.375,78.5)(1.5,77.5)(1.625,81)(1.75,80)(1.875,76)(2,76)(2.125,76)(2.25,72.5)(2.375,72)(2.5,76)(2.625,75)(2.75,70.5)(2.875,69)(3,71)(3.125,70)(3.25,65)(3.375,64.5)(3.5,68)(3.625,67.5)(3.75,63)(3.875,60.5)(4,62)(4.125,64.5)(4.25,62.5)(4.375,59)(4.5,59.5)(4.625,62.5)(4.75,61.5)(4.875,56.5)(5,55)(5.125,58)(5.25,57)(5.375,52.5)(5.5,52)(5.625,56)(5.75,56)(5.875,52.5)(6,53)(6.125,53)(6.25,48.5)(6.375,48)(6.5,51.5)(6.625,50.5)(6.75,45.5)(6.875,43.5)(7,45)(7.125,44)(7.25,38.5)(7.375,38)(7.5,41)(7.625,40)(7.75,35.5)(7.875,33)(8,34)(8.125,36)(8.25,33.5)(8.375,29)(8.5,28)(8.625,30)(8.75,28.5)(8.875,22)(9,20)(9.05,14)(9.1,8)(9.25,9)(9.4,7.5)(9.55,9)(9.7,8)(9.85,9.5)(10,8)};
\end{axis}
\end{tikzpicture}
\end{document}
